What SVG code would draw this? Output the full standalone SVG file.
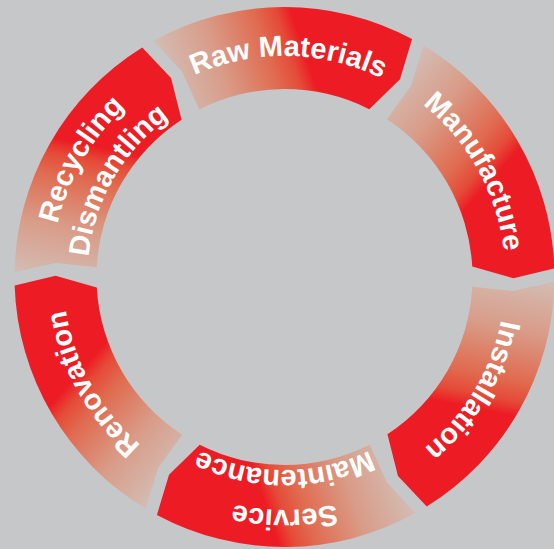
<svg xmlns="http://www.w3.org/2000/svg" width="554" height="549" viewBox="0 0 554 549">
<style>
.seg{fill:url(#segGrad)}
.lbl{font-family:"Liberation Sans",Arial,Helvetica,sans-serif;font-weight:bold;fill:#ffffff;font-size:29px;text-anchor:middle}
</style>
<defs>
<linearGradient id="segGrad" gradientUnits="userSpaceOnUse" x1="150" y1="38" x2="284.5" y2="-7.4">
<stop offset="0" stop-color="#d3beb6"/>
<stop offset="0.4" stop-color="#d99c88"/>
<stop offset="0.75" stop-color="#e06b50"/>
<stop offset="0.9" stop-color="#e54a37"/>
<stop offset="1" stop-color="#ed1c24"/>
</linearGradient>
<path id="segShape" d="M153.6,40.9 A270,270 0 0 1 412.1,39.05 L400,79.3 L369.3,109.2 A188,188 0 0 0 199.1,109.5 L182.3,72.1 Z"/>
<path id="arcMid" d="M63.5,277 A221,221 0 0 1 505.5,277"/>
<path id="arcOut" d="M51.5,277 A233,233 0 0 1 517.5,277"/>
<path id="arcIn" d="M91.5,277 A193,193 0 0 1 477.5,277"/>
<path id="arcIn2" d="M87.5,277 A197,197 0 0 1 481.5,277"/>
</defs>
<rect x="0" y="0" width="554" height="549" fill="#c6c7c9"/>
<g id="connectors"></g>
<g id="raw-materials" transform="rotate(0 284.5 277)">
<use href="#segShape" class="seg"/>
<text class="lbl" transform="rotate(1 284.5 277)"><textPath href="#arcMid" startOffset="50%">Raw Materials</textPath></text>
</g>
<g id="manufacture" transform="rotate(60 284.5 277)">
<use href="#segShape" class="seg"/>
<text class="lbl" transform="rotate(1 284.5 277)"><textPath href="#arcMid" startOffset="50%">Manufacture</textPath></text>
</g>
<g id="installation" transform="rotate(120 284.5 277)">
<use href="#segShape" class="seg"/>
<text class="lbl" transform="rotate(1 284.5 277)"><textPath href="#arcMid" startOffset="50%">Installation</textPath></text>
</g>
<g id="service-maintenance" transform="rotate(180 284.5 277)">
<use href="#segShape" class="seg"/>
<text class="lbl"><textPath href="#arcOut" startOffset="50%">Service</textPath></text>
<text class="lbl"><textPath href="#arcIn" startOffset="50%">Maintenance</textPath></text>
</g>
<g id="renovation" transform="rotate(240 284.5 277)">
<use href="#segShape" class="seg"/>
<text class="lbl" transform="rotate(1 284.5 277)"><textPath href="#arcMid" startOffset="50%">Renovation</textPath></text>
</g>
<g id="recycling-dismantling" transform="rotate(300 284.5 277)">
<use href="#segShape" class="seg"/>
<text class="lbl"><textPath href="#arcOut" startOffset="50%">Recycling</textPath></text>
<text class="lbl"><textPath href="#arcIn2" startOffset="50%">Dismantling</textPath></text>
</g>
</svg>
